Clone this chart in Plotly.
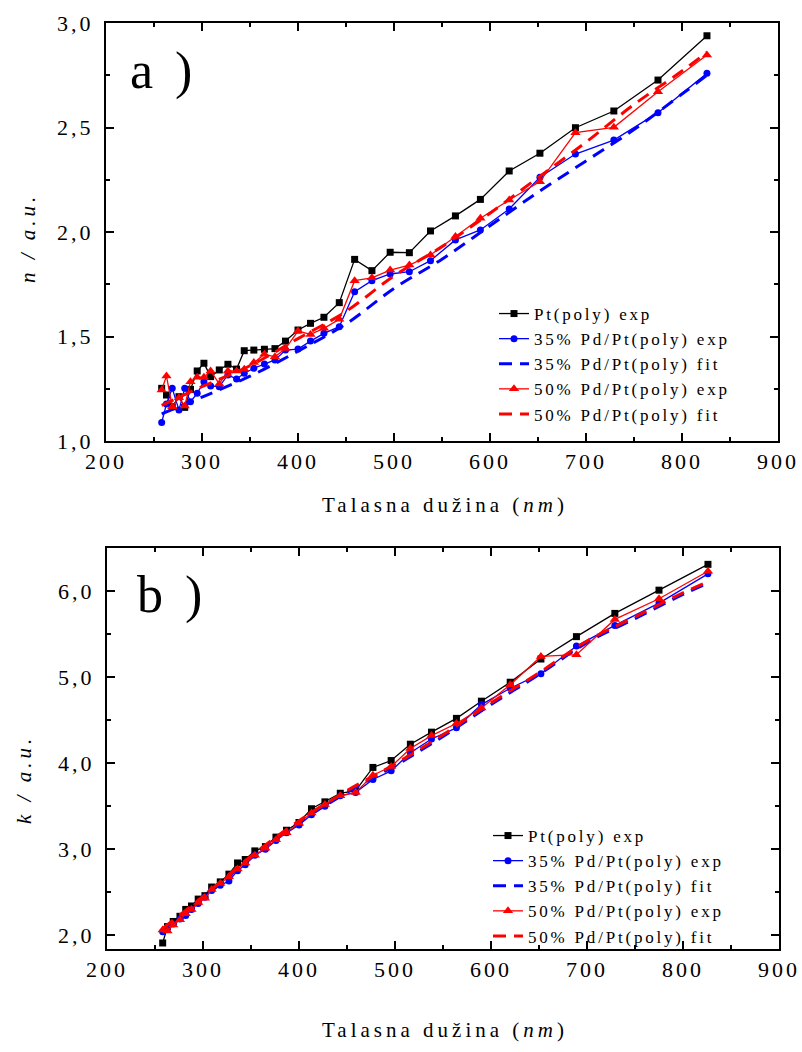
import plotly.graph_objects as go

# ---------------- data ----------------
wl = [258, 263, 269, 276, 282, 288, 295, 302, 309, 318, 327, 336, 344, 354, 365, 376, 387,
      400, 413, 427, 443, 459, 477, 496, 516, 538, 564, 590, 620, 652, 689, 729, 775, 826]

n_pt = [1.252, 1.220, 1.164, 1.212, 1.161, 1.247, 1.335, 1.372, 1.308, 1.340, 1.367, 1.344,
        1.432, 1.435, 1.439, 1.442, 1.478, 1.531, 1.563, 1.592, 1.662, 1.869, 1.815, 1.903,
        1.901, 2.005, 2.077, 2.156, 2.292, 2.377, 2.499, 2.579, 2.727, 2.939]
n_pd35 = [1.089, 1.177, 1.252, 1.148, 1.252, 1.188, 1.228, 1.284, 1.263, 1.260, 1.316, 1.297,
          1.324, 1.348, 1.368, 1.388, 1.435, 1.440, 1.478, 1.515, 1.547, 1.714, 1.767, 1.799,
          1.810, 1.863, 1.962, 2.010, 2.110, 2.262, 2.373, 2.440, 2.571, 2.759]
n_pd50 = [1.244, 1.311, 1.164, 1.207, 1.167, 1.284, 1.305, 1.305, 1.335, 1.273, 1.335, 1.335,
          1.343, 1.375, 1.415, 1.403, 1.442, 1.526, 1.510, 1.539, 1.582, 1.767, 1.781, 1.818,
          1.842, 1.890, 1.978, 2.066, 2.153, 2.241, 2.475, 2.501, 2.671, 2.847]

fit_wl = [258, 300, 350, 400, 450, 500, 550, 600, 650, 700, 750, 800, 826]
n_fit35 = [1.13, 1.21, 1.31, 1.43, 1.56, 1.73, 1.87, 2.03, 2.19, 2.34, 2.49, 2.66, 2.75]
n_fit50 = [1.17, 1.26, 1.36, 1.49, 1.62, 1.79, 1.93, 2.09, 2.26, 2.43, 2.61, 2.77, 2.86]

k_pt = [1.91, 2.10, 2.16, 2.22, 2.30, 2.34, 2.42, 2.46, 2.56, 2.62, 2.71, 2.84, 2.88, 2.98,
        3.03, 3.14, 3.22, 3.31, 3.47, 3.55, 3.65, 3.68, 3.95, 4.03, 4.22, 4.36, 4.52, 4.72,
        4.94, 5.21, 5.47, 5.74, 6.01, 6.31]
k_pd35 = [2.04, 2.08, 2.13, 2.19, 2.23, 2.30, 2.37, 2.44, 2.52, 2.58, 2.63, 2.75, 2.82, 2.93,
          3.00, 3.10, 3.19, 3.28, 3.40, 3.50, 3.62, 3.66, 3.81, 3.91, 4.12, 4.28, 4.41, 4.68,
          4.87, 5.04, 5.36, 5.60, 5.86, 6.20]
k_pd50 = [2.06, 2.05, 2.12, 2.18, 2.25, 2.30, 2.38, 2.43, 2.53, 2.60, 2.68, 2.77, 2.84, 2.93,
          3.01, 3.11, 3.19, 3.30, 3.42, 3.52, 3.62, 3.66, 3.86, 3.96, 4.17, 4.32, 4.46, 4.64,
          4.91, 5.24, 5.26, 5.67, 5.91, 6.23]
k_fit35 = [2.06, 2.43, 2.90, 3.31, 3.66, 3.97, 4.31, 4.68, 5.03, 5.40, 5.68, 5.96, 6.09]
k_fit50 = [2.08, 2.45, 2.92, 3.33, 3.68, 3.99, 4.33, 4.70, 5.05, 5.42, 5.70, 5.98, 6.11]

names = ["Pt(poly) exp", "35% Pd/Pt(poly) exp", "35% Pd/Pt(poly) fit",
         "50% Pd/Pt(poly) exp", "50% Pd/Pt(poly) fit"]

FONT = "Liberation Serif"
W, H = 802, 1052

fig = go.Figure()


def add_panel(xa, ya, leg, pt, p35, f35, p50, f50):
    fig.add_trace(go.Scatter(x=wl, y=pt, mode="lines+markers", name=names[0],
                             line=dict(color="black", width=1.3),
                             marker=dict(symbol="square", size=7, color="black"),
                             xaxis=xa, yaxis=ya, legend=leg))
    fig.add_trace(go.Scatter(x=wl, y=p35, mode="lines+markers", name=names[1],
                             line=dict(color="#0000ff", width=1.3),
                             marker=dict(symbol="circle", size=7, color="#0000ff"),
                             xaxis=xa, yaxis=ya, legend=leg))
    fig.add_trace(go.Scatter(x=fit_wl, y=f35, mode="lines", name=names[2],
                             line=dict(color="#0000ff", width=3, dash="13px,8px", shape="spline"),
                             xaxis=xa, yaxis=ya, legend=leg))
    fig.add_trace(go.Scatter(x=wl, y=p50, mode="lines+markers", name=names[3],
                             line=dict(color="#ff0000", width=1.3),
                             marker=dict(symbol="triangle-up", size=9, color="#ff0000"),
                             xaxis=xa, yaxis=ya, legend=leg))
    fig.add_trace(go.Scatter(x=fit_wl, y=f50, mode="lines", name=names[4],
                             line=dict(color="#ff0000", width=3, dash="13px,8px", shape="spline"),
                             xaxis=xa, yaxis=ya, legend=leg))


add_panel("x", "y", "legend", n_pt, n_pd35, n_fit35, n_pd50, n_fit50)
add_panel("x2", "y2", "legend2", k_pt, k_pd35, k_fit35, k_pd50, k_fit50)

tickfont = dict(family=FONT, size=22, color="black")
common = dict(showline=True, linewidth=2, linecolor="black", mirror="ticks",
              ticks="inside", ticklen=8, tickwidth=1.5, tickcolor="black",
              showgrid=False, zeroline=False, tickfont=tickfont, automargin=False)
minor_x = dict(dtick=50, ticklen=4, ticks="inside", tickwidth=1.5, tickcolor="black")

legfont = dict(family=FONT, size=17, color="black")
fig.update_layout(
    width=W, height=H,
    margin=dict(l=0, r=0, t=0, b=0),
    paper_bgcolor="white", plot_bgcolor="white",
    font=dict(family=FONT, color="black"),
    separators=", ",
    showlegend=True,
    xaxis=dict(domain=[106 / W, 778 / W], anchor="y", range=[200, 900], tick0=200, dtick=100,
               minor=minor_x, **common),
    yaxis=dict(domain=[1 - 441 / H, 1 - 23 / H], anchor="x", range=[1.0, 3.0], dtick=0.5,
               tick0=1.0, tickformat=".1f", ticklabelstandoff=6,
               minor=dict(dtick=0.25, ticklen=4, ticks="inside", tickwidth=1.5, tickcolor="black"),
               **common),
    xaxis2=dict(domain=[107 / W, 779 / W], anchor="y2", range=[200, 900], tick0=200, dtick=100,
                minor=minor_x, **common),
    yaxis2=dict(domain=[1 - 949 / H, 1 - 548 / H], anchor="x2", range=[1.84, 6.5], dtick=1,
                tick0=2.0, tickformat=".1f", ticklabelstandoff=6,
                minor=dict(dtick=0.5, tick0=2.0, ticklen=4, ticks="inside", tickwidth=1.5,
                           tickcolor="black"),
                **common),
    legend=dict(x=494 / W, y=1 - 296 / H, xanchor="left", yanchor="top",
                bgcolor="rgba(0,0,0,0)", borderwidth=0, font=legfont, tracegroupgap=0),
    legend2=dict(x=488 / W, y=1 - 818 / H, xanchor="left", yanchor="top",
                 bgcolor="rgba(0,0,0,0)", borderwidth=0, font=legfont, tracegroupgap=0),
)

ann_font = dict(family=FONT, size=21, color="black")
big_font = dict(family=FONT, size=52, color="black")


def ann(text, x, y, font, **kw):
    fig.add_annotation(text=text, x=x / W, y=1 - y / H, xref="paper", yref="paper",
                       showarrow=False, font=font, yanchor="middle", **kw)


ann("a)", 150, 71, big_font, xanchor="left")
ann("b)", 157, 595, big_font, xanchor="left")
ann("Talasna dužina (<i>nm</i>)", 445, 505, ann_font, xanchor="center")
ann("Talasna dužina (<i>nm</i>)", 445, 1030, ann_font, xanchor="center")
ann("<i>n / a.u.</i>", 28, 238, ann_font, xanchor="center", textangle=-90)
ann("<i>k / a.u.</i>", 24, 780, ann_font, xanchor="center", textangle=-90)

post = """
var s = document.createElement('style');
s.textContent = "g.xtick text, g.ytick text, g.x2tick text, g.y2tick text {letter-spacing:3px;}" +
  " text.legendtext, text.legend2text {letter-spacing:2.8px;}" +
  " g.scrollbox {clip-path:none !important;}" +
  " g.annotation text {letter-spacing:4px;}" +
  " g.annotation[data-index='0'] text, g.annotation[data-index='1'] text {letter-spacing:22px;}";
document.head.appendChild(s);
document.body.style.margin = '0';
var gd = document.getElementById('{plot_id}');
function fixLegend() {
  gd.querySelectorAll('text.legendtext, text.legend2text').forEach(function (t) {
    t.style.letterSpacing = '2.8px';
  });
  gd.querySelectorAll('g.scrollbox').forEach(function (g) {
    g.style.clipPath = 'none';
    g.removeAttribute('clip-path');
  });
}
fixLegend();
if (gd.on) { gd.on('plotly_afterplot', fixLegend); }
"""

fig.write_html("out.html", config={"displayModeBar": False}, post_script=post)
